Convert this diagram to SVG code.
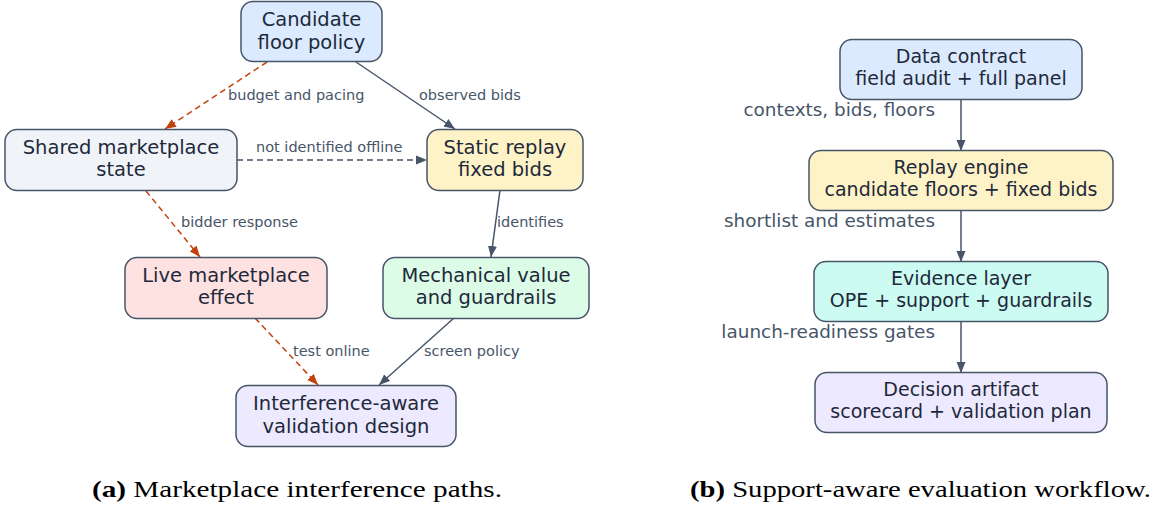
<svg xmlns="http://www.w3.org/2000/svg" width="1157" height="506" viewBox="0 0 1157 506">
<style>
.box{stroke:#475569;stroke-width:1.5}
.nt{font-family:"DejaVu Sans",sans-serif;font-size:19.5px;fill:#1e293b;text-anchor:middle}
.nr{font-family:"DejaVu Sans",sans-serif;font-size:19px;fill:#1e293b;text-anchor:middle}
.lab{font-family:"DejaVu Sans",sans-serif;font-size:14.5px;fill:#475569}
.labr{font-family:"DejaVu Sans",sans-serif;font-size:18.4px;fill:#475569;text-anchor:end}
.cap{font-family:"Liberation Serif",serif;font-size:24px;fill:#000}
.s{fill:none;stroke:#475569;stroke-width:1.5;marker-end:url(#ah)}
.sd{fill:none;stroke:#475569;stroke-width:1.5;stroke-dasharray:6,4;marker-end:url(#ah)}
.od{fill:none;stroke:#c2410c;stroke-width:1.5;stroke-dasharray:6,4;marker-end:url(#ao)}
</style>
<defs>
<marker id="ah" markerUnits="userSpaceOnUse" markerWidth="12" markerHeight="10" refX="11" refY="5" orient="auto"><path d="M0,0.5 L11,5 L0,9.5 z" fill="#475569"/></marker>
<marker id="ao" markerUnits="userSpaceOnUse" markerWidth="12" markerHeight="10" refX="11" refY="5" orient="auto"><path d="M0,0.5 L11,5 L0,9.5 z" fill="#c2410c"/></marker>
</defs>
<rect width="1157" height="506" fill="#fff"/>
<g id="connectors">
<path class="od" d="M267,62 L165,129"/>
<path class="s" d="M356,62 L455,129"/>
<path class="sd" d="M237,160 L427,160"/>
<path class="od" d="M146,191 L200,257"/>
<path class="s" d="M500,190 L491,257"/>
<path class="od" d="M255,318 L318,385"/>
<path class="s" d="M454,318 L379,385"/>
<path class="s" d="M961,99 L961,151"/>
<path class="s" d="M961,210 L961,262"/>
<path class="s" d="M961,321 L961,373"/>
<text class="lab" x="228" y="100">budget and pacing</text>
<text class="lab" x="419" y="100">observed bids</text>
<text class="lab" x="256" y="152">not identified offline</text>
<text class="lab" x="181" y="227">bidder response</text>
<text class="lab" x="497" y="227">identifies</text>
<text class="lab" x="293" y="356">test online</text>
<text class="lab" x="424" y="356">screen policy</text>
<text class="labr" x="935" y="116">contexts, bids, floors</text>
<text class="labr" x="935" y="227">shortlist and estimates</text>
<text class="labr" x="935" y="338">launch-readiness gates</text>
</g>
<g id="candidate">
<rect class="box" x="241" y="1.5" width="141" height="60" rx="12" fill="#dbeafe"/>
<text class="nt" x="311.5" y="26">Candidate</text>
<text class="nt" x="311.5" y="48.5">floor policy</text>
</g>
<g id="shared">
<rect class="box" x="5" y="129.5" width="232" height="61" rx="12" fill="#f0f4f9"/>
<text class="nt" x="121" y="153.5">Shared marketplace</text>
<text class="nt" x="121" y="176">state</text>
</g>
<g id="static">
<rect class="box" x="427" y="129.5" width="156" height="61" rx="12" fill="#fef3c7"/>
<text class="nt" x="505" y="153.5">Static replay</text>
<text class="nt" x="505" y="176">fixed bids</text>
</g>
<g id="live">
<rect class="box" x="125" y="257.5" width="202" height="61" rx="12" fill="#fee2e2"/>
<text class="nt" x="226" y="281.5">Live marketplace</text>
<text class="nt" x="226" y="304">effect</text>
</g>
<g id="mechanical">
<rect class="box" x="383" y="257.5" width="206" height="61" rx="12" fill="#dcfce7"/>
<text class="nt" x="486" y="281.5">Mechanical value</text>
<text class="nt" x="486" y="304">and guardrails</text>
</g>
<g id="interference">
<rect class="box" x="236" y="385.5" width="220" height="61" rx="12" fill="#ede9fe"/>
<text class="nt" x="346" y="410">Interference-aware</text>
<text class="nt" x="346" y="432.5">validation design</text>
</g>
<g id="data">
<rect class="box" x="840" y="39.5" width="242" height="60" rx="12" fill="#dbeafe"/>
<text class="nr" x="961" y="62.5">Data contract</text>
<text class="nr" x="961" y="85">field audit + full panel</text>
</g>
<g id="replay">
<rect class="box" x="809" y="150.5" width="304" height="60" rx="12" fill="#fef3c7"/>
<text class="nr" x="961" y="173.5">Replay engine</text>
<text class="nr" x="961" y="196">candidate floors + fixed bids</text>
</g>
<g id="evidence">
<rect class="box" x="814" y="261.5" width="294" height="60" rx="12" fill="#ccfbf1"/>
<text class="nr" x="961" y="284.5">Evidence layer</text>
<text class="nr" x="961" y="307">OPE + support + guardrails</text>
</g>
<g id="decision">
<rect class="box" x="815" y="372.5" width="292" height="60" rx="12" fill="#ede9fe"/>
<text class="nr" x="961" y="395.5">Decision artifact</text>
<text class="nr" x="961" y="418">scorecard + validation plan</text>
</g>
<text class="cap" x="92" y="497" textLength="410" lengthAdjust="spacingAndGlyphs"><tspan font-weight="bold">(a)</tspan> Marketplace interference paths.</text>
<text class="cap" x="690" y="497" textLength="461" lengthAdjust="spacingAndGlyphs"><tspan font-weight="bold">(b)</tspan> Support-aware evaluation workflow.</text>
</svg>
